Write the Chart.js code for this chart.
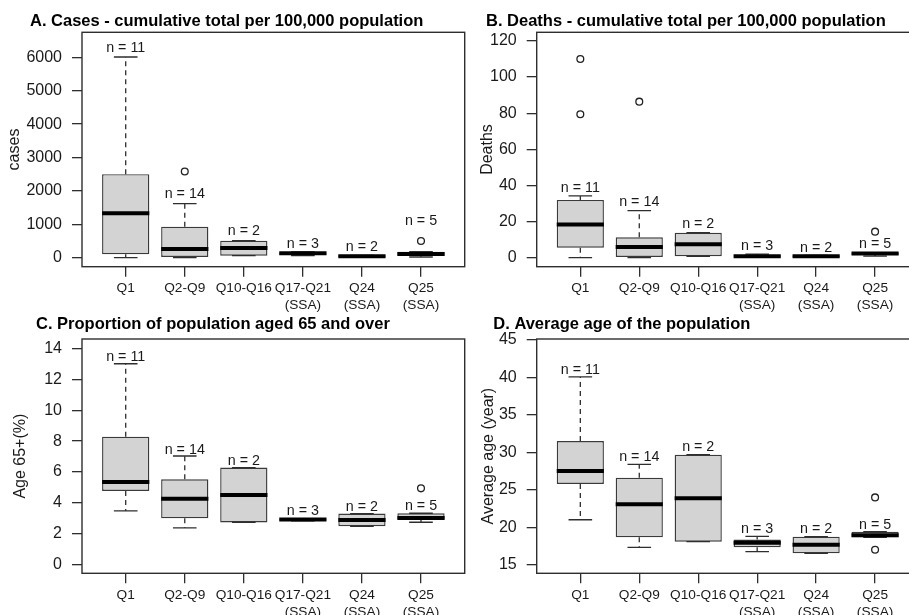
<!DOCTYPE html>
<html>
<head>
<meta charset="utf-8">
<script src="https://cdn.jsdelivr.net/npm/chart.js@4/dist/chart.umd.min.js"></script>
<style>
  html, body { margin: 0; padding: 0; background: #fff; }
  body { width: 909px; height: 615px; position: relative; overflow: hidden; }
  .panel { position: absolute; }
</style>
</head>
<body>
<div class="panel" style="left:0px;top:0px;width:470px;height:315px"><canvas id="cases"></canvas></div>
<div class="panel" style="left:455px;top:0px;width:470px;height:315px"><canvas id="deaths"></canvas></div>
<div class="panel" style="left:0px;top:312px;width:470px;height:303px"><canvas id="age65"></canvas></div>
<div class="panel" style="left:455px;top:312px;width:470px;height:303px"><canvas id="avgage"></canvas></div>
<script>
// Groups of countries and their sizes
const categories = [['Q1'], ['Q2-Q9'], ['Q10-Q16'], ['Q17-Q21', '(SSA)'], ['Q24', '(SSA)'], ['Q25', '(SSA)']];
const groupSizes = [11, 14, 2, 3, 2, 5];

// A. Cases per 100,000
const casesTicks = [0, 1000, 2000, 3000, 4000, 5000, 6000];
const casesWhiskerLow = [0, 0, 60, 60, 10, 20];
const casesBoxLow = [100, 20, 60, 90, 10, 60];
const casesMedian = [1330, 260, 290, 130, 40, 110];
const casesBoxHigh = [2500, 930, 510, 150, 70, 180];
const casesWhiskerHigh = [6010, 1620, 510, 170, 70, 180];
const casesOutliers = [[], [2580], [], [], [], [500]];
const casesLabelAt = [6290, 1910, 800, 420, 320, 1110];

// B. Deaths per 100,000
const deathsTicks = [0, 20, 40, 60, 80, 100, 120];
const deathsWhiskerLow = [0, 0, 0.8, 0.3, 0.4, 0.9];
const deathsBoxLow = [5.5, 0, 0.8, 0.55, 0.4, 1.6];
const deathsMedian = [18.3, 5.9, 7.4, 0.8, 0.8, 2.3];
const deathsBoxHigh = [32, 11.3, 13.8, 1.4, 1.2, 2.6];
const deathsWhiskerHigh = [34.2, 26, 13.8, 2.0, 1.2, 2.6];
const deathsOutliers = [[110, 79.4], [86.4], [], [], [], [14.4]];
const deathsLabelAt = [38.4, 30.7, 18.7, 6.6, 5.4, 7.4];

// C. Share of population aged 65+
const age65Ticks = [0, 2, 4, 6, 8, 10, 12, 14];
const age65WhiskerLow = [3.49, 2.39, 2.75, 2.85, 2.50, 2.76];
const age65BoxLow = [4.78, 3.01, 2.75, 2.89, 2.50, 2.93];
const age65Median = [5.36, 4.28, 4.52, 2.93, 2.91, 3.04];
const age65BoxHigh = [8.29, 5.53, 6.29, 2.955, 3.32, 3.34];
const age65WhiskerHigh = [13.0, 7.04, 6.29, 2.98, 3.32, 3.34];
const age65Outliers = [[], [], [], [], [], [4.95]];
const age65LabelAt = [13.42, 7.45, 6.72, 3.47, 3.75, 3.81];

// D. Average age
const avgAgeTicks = [15, 20, 25, 30, 35, 40, 45];
const avgAgeWhiskerLow = [21.04, 17.36, 18.11, 16.78, 16.56, 18.69];
const avgAgeBoxLow = [25.8, 18.69, 18.11, 17.38, 16.56, 18.69];
const avgAgeMedian = [27.53, 23.09, 23.89, 17.98, 17.71, 18.96];
const avgAgeBoxHigh = [31.53, 26.64, 29.71, 18.4, 18.78, 19.44];
const avgAgeWhiskerHigh = [40.07, 28.42, 29.71, 18.82, 18.78, 19.44];
const avgAgeOutliers = [[], [], [], [], [], [24.02, 17.04]];
const avgAgeLabelAt = [40.96, 29.36, 30.69, 19.8, 19.76, 20.33];

const FONT = '"Liberation Sans", Arial, Helvetica, sans-serif';
const INK = '#1a1a1a';
const LINE = '#2e2e2e';

function drawPanel(canvasId, p) {
  const boxes = p.boxLow.map((lo, i) => ({ x: i + 1, y: [lo, p.boxHigh[i]] }));
  const outliers = [];
  p.outliers.forEach((vals, i) => vals.forEach(v => outliers.push({ x: i + 1, y: v })));

  const details = {
    id: 'boxDetails',
    afterDatasetsDraw(chart) {
      const { ctx, scales: { x, y } } = chart;
      const meta = chart.getDatasetMeta(0);
      ctx.save();
      p.median.forEach((m, i) => {
        const bar = meta.data[i];
        const half = bar.width / 2;
        const cx = x.getPixelForValue(i + 1);
        // whiskers (dashed) and staples
        ctx.strokeStyle = LINE;
        ctx.lineWidth = 1.3;
        const yBoxHi = y.getPixelForValue(p.boxHigh[i]);
        const yBoxLo = y.getPixelForValue(p.boxLow[i]);
        const yWHi = y.getPixelForValue(p.whiskerHigh[i]);
        const yWLo = y.getPixelForValue(p.whiskerLow[i]);
        ctx.setLineDash([5, 4]);
        ctx.beginPath();
        if (p.whiskerHigh[i] > p.boxHigh[i]) { ctx.moveTo(cx, yBoxHi); ctx.lineTo(cx, yWHi); }
        if (p.whiskerLow[i] < p.boxLow[i]) { ctx.moveTo(cx, yBoxLo); ctx.lineTo(cx, yWLo); }
        ctx.stroke();
        ctx.setLineDash([]);
        ctx.beginPath();
        ctx.moveTo(cx - half / 2, yWHi); ctx.lineTo(cx + half / 2, yWHi);
        ctx.moveTo(cx - half / 2, yWLo); ctx.lineTo(cx + half / 2, yWLo);
        ctx.stroke();
        // median
        ctx.strokeStyle = '#000';
        ctx.lineWidth = 4;
        const ym = y.getPixelForValue(m);
        ctx.beginPath();
        ctx.moveTo(cx - half, ym); ctx.lineTo(cx + half, ym);
        ctx.stroke();
        // group size label
        ctx.fillStyle = INK;
        ctx.font = '14.3px ' + FONT;
        ctx.textAlign = 'center';
        ctx.textBaseline = 'middle';
        ctx.fillText('n = ' + groupSizes[i], cx, y.getPixelForValue(p.labelAt[i]));
      });
      ctx.restore();
    },
    afterDraw(chart) {
      const { ctx, chartArea: a } = chart;
      ctx.save();
      ctx.strokeStyle = LINE;
      ctx.lineWidth = 1.4;
      ctx.strokeRect(a.left, a.top, a.right - a.left, a.bottom - a.top);
      ctx.fillStyle = '#000';
      ctx.font = 'bold 16.5px ' + FONT;
      ctx.textAlign = 'left';
      ctx.textBaseline = 'alphabetic';
      ctx.fillText(p.title, p.titleX, p.titleY);
      ctx.restore();
    }
  };

  new Chart(document.getElementById(canvasId), {
    type: 'bar',
    data: {
      datasets: [
        {
          type: 'bar',
          data: boxes,
          backgroundColor: '#d3d3d3',
          borderColor: '#3a3a3a',
          borderWidth: 1.4,
          borderSkipped: false,
          barPercentage: 0.8,
          categoryPercentage: 1.0
        },
        {
          type: 'scatter',
          data: outliers,
          pointStyle: 'circle',
          pointRadius: 3.4,
          pointBorderWidth: 1.3,
          pointBorderColor: '#222',
          pointBackgroundColor: 'rgba(0,0,0,0)'
        }
      ]
    },
    options: {
      responsive: true,
      maintainAspectRatio: false,
      animation: false,
      events: [],
      layout: { padding: { left: 0, right: p.padRight, top: p.padTop, bottom: 0 } },
      plugins: { legend: { display: false }, tooltip: { enabled: false }, title: { display: false } },
      scales: {
        x: {
          type: 'linear',
          min: 0.26,
          max: 6.74,
          offset: false,
          afterBuildTicks: s => { s.ticks = categories.map((c, i) => ({ value: i + 1 })); },
          afterFit: s => { s.height = p.xAxisHeight; },
          ticks: {
            autoSkip: false,
            maxRotation: 0,
            padding: 3,
            color: INK,
            font: { family: FONT, size: 13.7, lineHeight: 1.24 },
            callback: v => categories[v - 1]
          },
          grid: { display: true, drawOnChartArea: false, drawTicks: true, tickLength: 10, color: LINE, lineWidth: 1.3, offset: false },
          border: { display: false }
        },
        y: {
          type: 'linear',
          min: p.min,
          max: p.max,
          afterBuildTicks: s => { s.ticks = p.ticks.map(v => ({ value: v })); },
          afterFit: s => { s.width = p.yAxisWidth; },
          ticks: {
            padding: 10,
            color: INK,
            font: { family: FONT, size: 16 },
            callback: v => String(v)
          },
          grid: { display: true, drawOnChartArea: false, drawTicks: true, tickLength: 10, color: LINE, lineWidth: 1.3 },
          border: { display: false },
          title: {
            display: true,
            text: p.yTitle,
            color: INK,
            font: { family: FONT, size: 16 },
            padding: { top: p.yTitlePad, bottom: 0 }
          }
        }
      }
    },
    plugins: [details]
  });
}

drawPanel('cases', {
  title: 'A. Cases - cumulative total per 100,000 population', titleX: 30, titleY: 26,
  yTitle: 'cases', yTitlePad: 5.4,
  min: -270, max: 6750, ticks: casesTicks,
  whiskerLow: casesWhiskerLow, boxLow: casesBoxLow, median: casesMedian,
  boxHigh: casesBoxHigh, whiskerHigh: casesWhiskerHigh, outliers: casesOutliers, labelAt: casesLabelAt,
  padTop: 32.3, padRight: 5.3, yAxisWidth: 82, xAxisHeight: 315 - 266.7
});

drawPanel('deaths', {
  title: 'B. Deaths - cumulative total per 100,000 population', titleX: 31, titleY: 26,
  yTitle: 'Deaths', yTitlePad: 22.9,
  min: -5, max: 124.8, ticks: deathsTicks,
  whiskerLow: deathsWhiskerLow, boxLow: deathsBoxLow, median: deathsMedian,
  boxHigh: deathsBoxHigh, whiskerHigh: deathsWhiskerHigh, outliers: deathsOutliers, labelAt: deathsLabelAt,
  padTop: 32.3, padRight: 6.3, yAxisWidth: 81.7, xAxisHeight: 315 - 266.7
});

drawPanel('age65', {
  title: 'C. Proportion of population aged 65 and over', titleX: 36, titleY: 17.3,
  yTitle: 'Age 65+(%)', yTitlePad: 11.4,
  min: -0.54, max: 14.6, ticks: age65Ticks,
  whiskerLow: age65WhiskerLow, boxLow: age65BoxLow, median: age65Median,
  boxHigh: age65BoxHigh, whiskerHigh: age65WhiskerHigh, outliers: age65Outliers, labelAt: age65LabelAt,
  padTop: 27, padRight: 5.3, yAxisWidth: 82, xAxisHeight: 303 - 261.3
});

drawPanel('avgage', {
  title: 'D. Average age of the population', titleX: 38.3, titleY: 17.3,
  yTitle: 'Average age (year)', yTitlePad: 24.4,
  min: 13.9, max: 45.13, ticks: avgAgeTicks,
  whiskerLow: avgAgeWhiskerLow, boxLow: avgAgeBoxLow, median: avgAgeMedian,
  boxHigh: avgAgeBoxHigh, whiskerHigh: avgAgeWhiskerHigh, outliers: avgAgeOutliers, labelAt: avgAgeLabelAt,
  padTop: 27, padRight: 6.3, yAxisWidth: 81.7, xAxisHeight: 303 - 261.3
});
</script>
</body>
</html>
